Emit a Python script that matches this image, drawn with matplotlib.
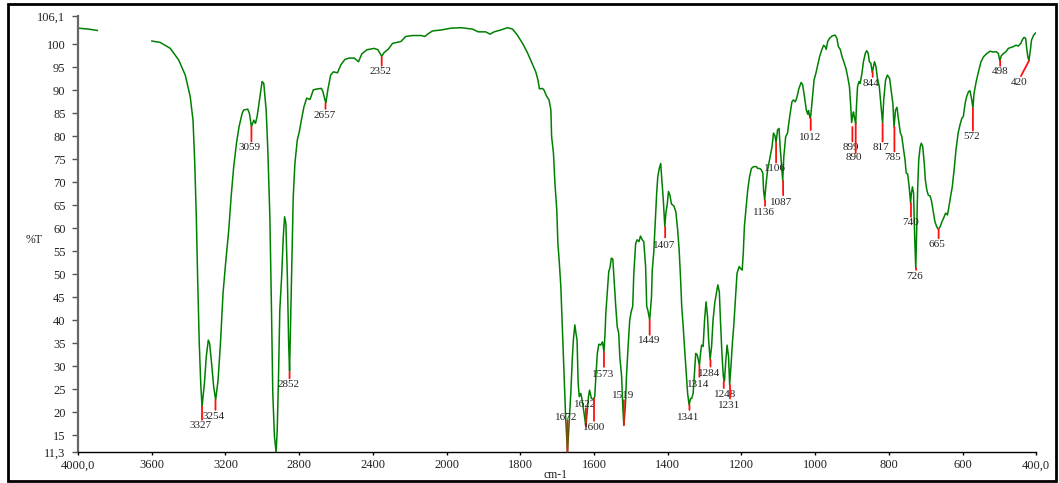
import numpy as np
import matplotlib
matplotlib.use("Agg")
import matplotlib.pyplot as plt
from matplotlib.patches import Rectangle

plt.rcParams["font.family"] = ["Liberation Serif", "DejaVu Serif"]

# Spectrum (wavenumber cm-1, %T); NaN marks the gap in the recorded trace
wavenumber = [
    4000, 3971, 3944, 3895, np.nan,
    3599, 3554, 3499, 3454, 3418, 3391, 3376, 3367, 3358, 3351, 3342, 3334, 3327, 3314,
    3304, 3293, 3286, 3275, 3264, 3253, 3240, 3227, 3213, 3199, 3182, 3169, 3155, 3140,
    3126, 3109, 3101, 3079, 3070, 3059, 3046, 3037, 3028, 3013, 3001, 2992, 2979, 2970,
    2959, 2950, 2943, 2934, 2925, 2919, 2912, 2905, 2895, 2886, 2879, 2872, 2864, 2857,
    2852, 2845, 2837, 2832, 2823, 2810, 2799, 2788, 2774, 2759, 2741, 2723, 2701, 2679,
    2671, 2660, 2655, 2643, 2629, 2614, 2592, 2574, 2552, 2529, 2501, 2478, 2460, 2433,
    2393, 2372, 2361, 2352, 2339, 2317, 2293, 2270, 2248, 2221, 2184, 2139, 2117, 2103,
    2076, 2030, 1988, 1961, 1930, 1914, 1894, 1882, 1871, 1853, 1835, 1821, 1808, 1794,
    1782, 1772, 1758, 1752, 1748, 1740, 1736, 1728, 1722, 1717, 1715, 1710, 1706, 1701,
    1698, 1694, 1690, 1686, 1681, 1677, 1672, 1668, 1663, 1659, 1656, 1652, 1649, 1646,
    1643, 1640, 1636, 1633, 1627, 1622, 1618, 1615, 1612, 1607, 1602, 1598, 1595, 1591,
    1587, 1582, 1577, 1573, 1570, 1568, 1564, 1560, 1557, 1553, 1549, 1546, 1541, 1537,
    1533, 1530, 1525, 1522, 1519, 1515, 1512, 1507, 1503, 1499, 1495, 1492, 1487, 1483,
    1478, 1474, 1469, 1465, 1460, 1457, 1454, 1449, 1444, 1442, 1438, 1433, 1430, 1427,
    1423, 1419, 1416, 1412, 1408, 1405, 1401, 1398, 1394, 1390, 1383, 1378, 1373, 1369,
    1365, 1362, 1358, 1354, 1349, 1346, 1342, 1338, 1335, 1331, 1327, 1324, 1320, 1317,
    1314, 1311, 1308, 1304, 1300, 1296, 1292, 1289, 1285, 1281, 1277, 1272, 1268, 1264,
    1260, 1257, 1253, 1249, 1246, 1243, 1239, 1235, 1232, 1228, 1224, 1221, 1217, 1212,
    1206, 1203, 1198, 1195, 1192, 1187, 1183, 1178, 1173, 1167, 1159, 1156, 1150, 1146,
    1142, 1140, 1137, 1133, 1129, 1124, 1117, 1113, 1109, 1106, 1102, 1098, 1095, 1091,
    1088, 1085, 1080, 1075, 1069, 1063, 1059, 1054, 1050, 1044, 1038, 1034, 1029, 1024,
    1020, 1018, 1014, 1012, 1007, 1003, 998, 993, 988, 982, 977, 973, 970, 966,
    961, 954, 946, 941, 937, 932, 927, 921, 916, 912, 907, 904, 901, 898,
    896, 893, 890, 888, 885, 881, 878, 873, 869, 864, 860, 856, 853, 849,
    845, 842, 839, 835, 831, 826, 822, 817, 814, 809, 804, 798, 794, 789,
    786, 782, 778, 774, 769, 765, 760, 756, 753, 749, 745, 741, 739, 736,
    733, 730, 727, 725, 722, 719, 715, 712, 708, 704, 701, 697, 693, 688,
    684, 679, 675, 670, 666, 661, 656, 650, 646, 641, 637, 632, 628, 623,
    618, 612, 607, 602, 598, 593, 589, 584, 580, 575, 572, 569, 563, 557,
    550, 543, 534, 525, 517, 509, 503, 499, 495, 489, 482, 476, 469, 462,
    455, 449, 442, 437, 433, 429, 426, 423, 420, 416, 413, 407, 401,
]
transmittance = [
    103.5, 103.4, 103.3, 103.0, np.nan,
    100.7, 100.4, 99.1, 96.6, 93.3, 88.6, 83.5, 74.8, 62.5, 49.5, 35.0, 26.3, 21.2, 26.3,
    32.1, 35.7, 35.0, 30.6, 25.6, 22.7, 27.0, 35.0, 45.9, 52.4, 59.6, 66.9, 73.4, 78.5,
    82.1, 85.0, 85.7, 85.9, 85.0, 82.1, 83.5, 82.8, 84.3, 88.6, 91.9, 91.5, 85.7, 77.0,
    62.5, 42.2, 24.1, 14.7, 11.3, 16.1, 27.7, 42.2, 49.5, 58.2, 62.5, 61.1, 49.5, 35.0,
    29.0, 42.2, 56.7, 66.9, 74.1, 79.2, 81.0, 83.5, 86.4, 88.3, 88.0, 90.1, 90.3, 90.4,
    89.7, 87.9, 87.3, 90.4, 93.3, 94.0, 93.8, 95.5, 96.7, 97.0, 97.0, 96.2, 97.9, 98.8,
    99.1, 98.8, 98.0, 97.4, 98.2, 98.9, 100.2, 100.4, 100.6, 101.7, 101.9, 101.9, 101.7, 102.2,
    102.9, 103.1, 103.5, 103.6, 103.3, 102.7, 102.7, 102.2, 102.7, 103.1, 103.6, 103.3, 102.0, 100.2,
    98.4, 96.6, 94.0, 92.2, 90.3, 90.4, 90.1, 88.6, 87.9, 85.7, 79.9, 76.3, 69.8, 64.0,
    56.7, 52.4, 47.3, 38.6, 27.7, 19.0, 11.3, 16.9, 24.1, 31.4, 35.7, 39.0, 37.2, 35.7,
    26.3, 23.4, 24.1, 23.0, 19.8, 16.9, 20.5, 23.4, 24.8, 23.0, 22.8, 23.4, 27.7, 32.8,
    34.8, 34.6, 35.3, 33.1, 37.2, 41.5, 45.9, 50.6, 51.3, 53.5, 53.3, 49.5, 43.0, 38.6,
    37.2, 32.1, 27.7, 21.2, 17.2, 21.2, 27.7, 35.0, 40.1, 41.9, 43.0, 50.2, 56.7, 57.5,
    57.1, 58.3, 57.5, 57.1, 51.7, 43.0, 42.2, 40.1, 45.1, 50.9, 54.6, 62.5, 67.6, 71.2,
    73.0, 74.1, 70.5, 66.2, 60.4, 63.3, 65.4, 68.0, 67.2, 65.3, 64.8, 63.6, 59.6, 55.3,
    48.8, 43.0, 38.6, 33.5, 27.7, 24.1, 21.6, 23.0, 23.0, 24.1, 29.2, 32.8, 32.5, 31.4,
    30.2, 32.8, 34.6, 34.3, 40.1, 44.0, 40.8, 35.7, 31.5, 34.3, 40.1, 44.0, 45.9, 47.7,
    46.2, 40.1, 32.8, 27.7, 26.8, 30.6, 34.6, 32.1, 26.0, 30.6, 35.7, 38.6, 43.7, 50.2,
    51.7, 51.3, 50.9, 54.6, 60.4, 64.7, 68.3, 71.2, 73.0, 73.4, 73.4, 73.0, 73.0, 72.7,
    72.0, 68.3, 66.2, 69.8, 72.7, 74.8, 77.7, 80.7, 80.1, 78.6, 81.4, 81.7, 77.7, 73.4,
    70.4, 75.6, 79.9, 80.7, 84.3, 87.5, 87.9, 87.5, 88.3, 90.4, 91.7, 91.2, 88.6, 85.7,
    84.8, 85.6, 84.0, 84.4, 88.6, 92.2, 93.7, 95.5, 97.3, 98.8, 99.8, 99.5, 98.9, 100.6,
    101.3, 101.8, 102.0, 101.3, 99.5, 98.9, 97.3, 95.9, 94.6, 93.0, 90.8, 87.2, 83.0, 84.6,
    85.3, 83.9, 82.7, 86.4, 90.8, 91.9, 91.5, 93.7, 96.2, 98.0, 98.6, 98.0, 96.2, 95.9,
    93.9, 95.1, 96.2, 95.1, 92.6, 90.8, 87.2, 82.8, 87.9, 92.2, 93.3, 92.6, 90.1, 87.0,
    82.0, 85.7, 86.3, 83.7, 80.8, 80.0, 77.0, 74.8, 72.0, 71.8, 69.0, 65.4, 67.6, 69.0,
    67.6, 58.2, 51.3, 58.2, 68.3, 74.8, 77.7, 78.5, 77.7, 74.1, 70.5, 68.3, 67.2, 67.0,
    65.8, 63.3, 61.4, 60.3, 59.8, 60.3, 61.4, 62.5, 63.3, 62.9, 64.7, 67.2, 69.0, 72.7,
    77.0, 80.7, 82.5, 83.9, 84.3, 87.2, 88.6, 89.7, 89.9, 87.9, 86.1, 89.3, 91.9, 94.0,
    96.2, 97.3, 98.0, 98.5, 98.3, 98.4, 98.0, 96.4, 97.5, 98.0, 98.4, 99.1, 99.3, 99.5,
    99.8, 99.6, 100.2, 101.1, 101.5, 101.3, 99.1, 97.3, 96.4, 98.8, 100.9, 102.0, 102.5,
]

# Picked peaks
peak_wn = [3327, 3254, 3059, 2852, 2657, 2352, 1672, 1622, 1600, 1573, 1519, 1449, 1407,
           1341, 1314, 1284, 1248, 1231, 1136, 1106, 1087, 1012, 899, 890, 844, 817, 785,
           740, 726, 665, 572, 498, 420]
peak_t = [21.2, 22.7, 82.1, 28.8, 87.2, 97.3, 11.4, 16.9, 23.0, 33.0, 17.2, 40.1, 60.3,
          21.6, 30.1, 31.4, 26.7, 25.9, 66.1, 78.5, 70.3, 83.9, 82.0, 82.7, 94.0, 82.7, 82.0,
          65.4, 51.3, 59.8, 86.1, 96.4, 96.4]

# marker line length (px, downward), label offsets (px), sideways shift of line end
line_len = [13, 10, 15, 6.6, 5.7, 9, -31, -18.3, 22.4, 14.4, -25, 15, 10.6,
            5, 11, 6.7, 6.6, 13.3, 5.7, 19.4, 14.3, 11.7, 14.4, 29.3, 5, 17.7, 24.4,
            13.4, 1.7, 9, 22.4, 5, 15.3]
label_dy = [6, 6.7, 5.6, 5.7, 6.3, 6, -3.4, -4, 6.3, 7.3, -5, 5.7, 7.7,
            7.3, 7.6, 7.3, 6.7, 7.4, 6.6, 6.3, 7.3, 7.3, 6, 4.7, 6.6, 6, 6.3,
            6, 6.7, 6.7, 6, 6, 6.7]
label_dx = [-1.7, -1.8, -1.7, -0.7, -1.3, -1, -1, -1, 0, -1.3, -1, -0.7, -0.7,
            -1.4, -1.7, -1.4, 1, -1.4, -1, -1, -1.6, -1, -1.3, -1.7, -2, -1.6, -2,
            -0.3, -1.3, -1.6, -1.7, -0.4, -1.4]
line_dx = [0] * 32 + [-8]

y_ticks = [11.3] + list(range(15, 101, 5)) + [106.1]
x_ticks = [4000, 3600, 3200, 2800, 2400, 2000, 1800, 1600, 1400, 1200, 1000, 800, 600, 400]


def fwd(x):
    # spectrometer axis: 2x expansion below 2000 cm-1
    x = np.asarray(x, dtype=float)
    return np.where(x > 2000, 2000 + (x - 2000) / 2, x)


def inv(u):
    u = np.asarray(u, dtype=float)
    return np.where(u > 2000, 2000 + (u - 2000) * 2, u)


def fmt(v):
    if float(v).is_integer():
        return f"{int(v)}"
    return f"{v:.1f}".replace(".", ",")


fig = plt.figure(figsize=(10.59, 4.83), dpi=100)
ax = fig.add_axes([78 / 1059, 1 - 452.3 / 483, (1036.3 - 78) / 1059, (452.3 - 16.2) / 483])

ax.set_xscale("function", functions=(fwd, inv))
ax.plot(wavenumber, transmittance, color="#008000", lw=1.1)
ax.set_xlim(4000, 400)
ax.set_ylim(11.3, 106.1)

for i, (w, t) in enumerate(zip(peak_wn, peak_t)):
    ax.annotate("", xy=(w, t), xytext=(line_dx[i], -line_len[i]), textcoords="offset pixels",
                arrowprops=dict(arrowstyle="-", color="#ff1010", lw=1.3, shrinkA=0, shrinkB=0))
    ax.annotate(str(w), xy=(w, t),
                xytext=(line_dx[i] + label_dx[i], -line_len[i] - label_dy[i]),
                textcoords="offset pixels", ha="center", va="center",
                fontsize=8, color="#222222")

ax.set_xticks(x_ticks)
ax.set_xticklabels([fmt(v) + (",0" if v in (4000, 400) else "") for v in x_ticks])
ax.set_yticks(y_ticks)
ax.set_yticklabels([fmt(v) for v in y_ticks])
ax.tick_params(axis="y", direction="out", length=4, width=1, pad=5, labelsize=9,
               color="#555555", labelcolor="#222222")
ax.tick_params(axis="x", direction="out", length=2, width=1, pad=3, labelsize=9,
               labelcolor="#222222")
ax.minorticks_off()

for side in ("top", "right"):
    ax.spines[side].set_visible(False)
ax.spines["left"].set_color("#666666")
ax.spines["left"].set_linewidth(1.6)
ax.spines["bottom"].set_linewidth(1.0)

fig.text(34 / 1059, 1 - 240 / 483, "%T", ha="center", va="center", fontsize=8.5, color="#222222")
fig.text(555 / 1059, 1 - 475 / 483, "cm-1", ha="center", va="center", fontsize=8.5, color="#222222")

fig.patches.append(Rectangle((8 / 1059, 2 / 483), 1048 / 1059, 477 / 483, transform=fig.transFigure,
                             fill=False, edgecolor="black", lw=2))

fig.savefig("out.png", dpi=100)
